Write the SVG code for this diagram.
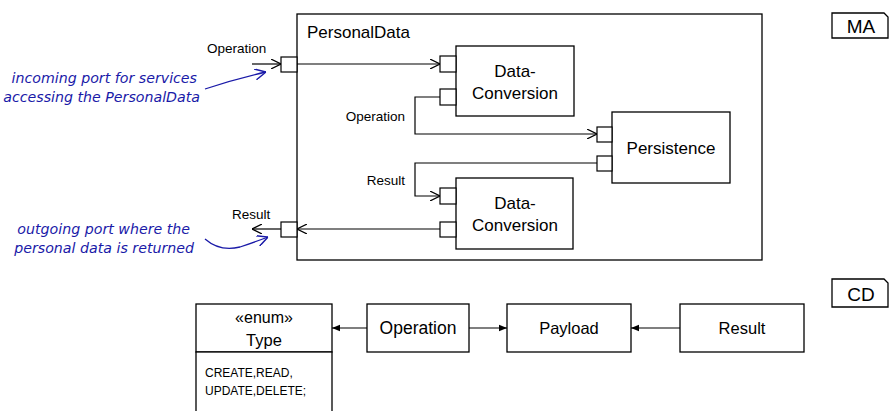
<svg xmlns="http://www.w3.org/2000/svg" width="891" height="411" viewBox="0 0 891 411">
<style>
.box{fill:#fff;stroke:#000;stroke-width:1.3}
.port{fill:#fff;stroke:#000;stroke-width:1.2}
.ln{fill:none;stroke:#000;stroke-width:1.2}
.t{font-family:"Liberation Sans",Arial,sans-serif;fill:#000}
.lbl{font-size:13.5px}
.note{font-family:"DejaVu Sans",sans-serif;font-style:italic;fill:#1a1aa8;font-size:14.2px}
.bl{fill:none;stroke:#1a1aa8;stroke-width:1.3}
</style>
<defs>
<marker id="open" viewBox="0 0 10 10" refX="10" refY="5" markerWidth="10" markerHeight="10" markerUnits="userSpaceOnUse" orient="auto">
<path d="M0,0 L10,5 L0,10" fill="none" stroke="#000" stroke-width="1.2"/>
</marker>
<marker id="fill" viewBox="0 0 10 10" refX="10" refY="5" markerWidth="8" markerHeight="8" markerUnits="userSpaceOnUse" orient="auto">
<path d="M0,1 L10,5 L0,9 Z" fill="#000"/>
</marker>
<marker id="blue" viewBox="0 0 10 10" refX="10" refY="5" markerWidth="11" markerHeight="11" markerUnits="userSpaceOnUse" orient="auto">
<path d="M0,0 L10,5 L0,10" fill="none" stroke="#1a1aa8" stroke-width="1.3"/>
</marker>
</defs>

<g id="personaldata">
<rect class="box" x="297" y="14" width="465" height="246"/>
<text class="t" x="307" y="38" font-size="17">PersonalData</text>
</g>
<g id="port-in">
<rect class="port" x="281" y="57" width="16" height="15"/>
<text class="t lbl" x="207" y="53">Operation</text>
</g>
<g id="port-out">
<rect class="port" x="281" y="222" width="16" height="15"/>
<text class="t lbl" x="232" y="219">Result</text>
</g>
<g id="dataconversion1">
<rect class="box" x="456" y="46" width="118" height="70"/>
<text class="t" x="515" y="77" font-size="17" text-anchor="middle">Data-</text>
<text class="t" x="515" y="99" font-size="17" text-anchor="middle">Conversion</text>
<rect class="port" x="440" y="56" width="16" height="16"/>
<rect class="port" x="440" y="89" width="16" height="16"/>
</g>
<g id="persistence">
<rect class="box" x="612" y="112" width="118" height="71"/>
<text class="t" x="671" y="154" font-size="17" text-anchor="middle">Persistence</text>
<rect class="port" x="597" y="127" width="15" height="15"/>
<rect class="port" x="597" y="156" width="15" height="15"/>
</g>
<g id="dataconversion2">
<rect class="box" x="456" y="178" width="117" height="71"/>
<text class="t" x="515" y="209" font-size="17" text-anchor="middle">Data-</text>
<text class="t" x="515" y="231" font-size="17" text-anchor="middle">Conversion</text>
<rect class="port" x="440" y="188" width="16" height="16"/>
<rect class="port" x="440" y="222" width="16" height="15"/>
</g>
<g id="ma">
<path class="box" d="M832,13 H884 L888,17 V38 H832 Z"/>
<text class="t" x="861" y="33" font-size="19" text-anchor="middle">MA</text>
</g>
<g id="cd">
<path class="box" d="M832,279 H884 L888,283 V307 H832 Z"/>
<text class="t" x="861" y="301" font-size="19" text-anchor="middle">CD</text>
</g>

<g id="type">
<rect class="box" x="196" y="304" width="136" height="48"/>
<rect class="box" x="196" y="352" width="136" height="62"/>
<text class="t" x="264" y="323" font-size="16" text-anchor="middle">«enum»</text>
<text class="t" x="264" y="346" font-size="16.5" text-anchor="middle">Type</text>
<text class="t" x="205" y="377" font-size="12">CREATE,READ,</text>
<text class="t" x="205" y="395" font-size="12">UPDATE,DELETE;</text>
</g>
<g id="operation">
<rect class="box" x="367" y="304" width="102" height="48"/>
<text class="t" x="418" y="334" font-size="17.5" text-anchor="middle">Operation</text>
</g>
<g id="payload">
<rect class="box" x="507" y="304" width="124" height="48"/>
<text class="t" x="569" y="334" font-size="16.5" text-anchor="middle">Payload</text>
</g>
<g id="result">
<rect class="box" x="680" y="304" width="124" height="48"/>
<text class="t" x="742" y="334" font-size="16.5" text-anchor="middle">Result</text>
</g>

<g id="labels">
<text class="t lbl" x="405" y="121" text-anchor="end">Operation</text>
<text class="t lbl" x="405" y="185" text-anchor="end">Result</text>
<text class="note" x="197" y="83" text-anchor="end">incoming port for services</text>
<text class="note" x="200" y="102" text-anchor="end">accessing the PersonalData</text>
<text class="note" x="190" y="234" text-anchor="end">outgoing port where the</text>
<text class="note" x="194" y="253" text-anchor="end">personal data is returned</text>
</g>

<g id="connectors">
<path class="ln" d="M252,64 H281" marker-end="url(#open)"/>
<path class="ln" d="M297,64 H440" marker-end="url(#open)"/>
<path class="ln" d="M440,97 H415 V134 H597" marker-end="url(#open)"/>
<path class="ln" d="M597,163 H415 V196 H440" marker-end="url(#open)"/>
<path class="ln" d="M440,229 H297" marker-end="url(#open)"/>
<path class="ln" d="M281,229 H252" marker-end="url(#open)"/>
<path class="ln" d="M367,328 H332" marker-end="url(#fill)"/>
<path class="ln" d="M469,328 H507" marker-end="url(#fill)"/>
<path class="ln" d="M680,328 H631" marker-end="url(#fill)"/>
<path class="bl" d="M205,89 Q235,79 266,72" marker-end="url(#blue)"/>
<path class="bl" d="M205,239 Q220,252 240,247 Q255,242 268,237" marker-end="url(#blue)"/>
</g>
</svg>
